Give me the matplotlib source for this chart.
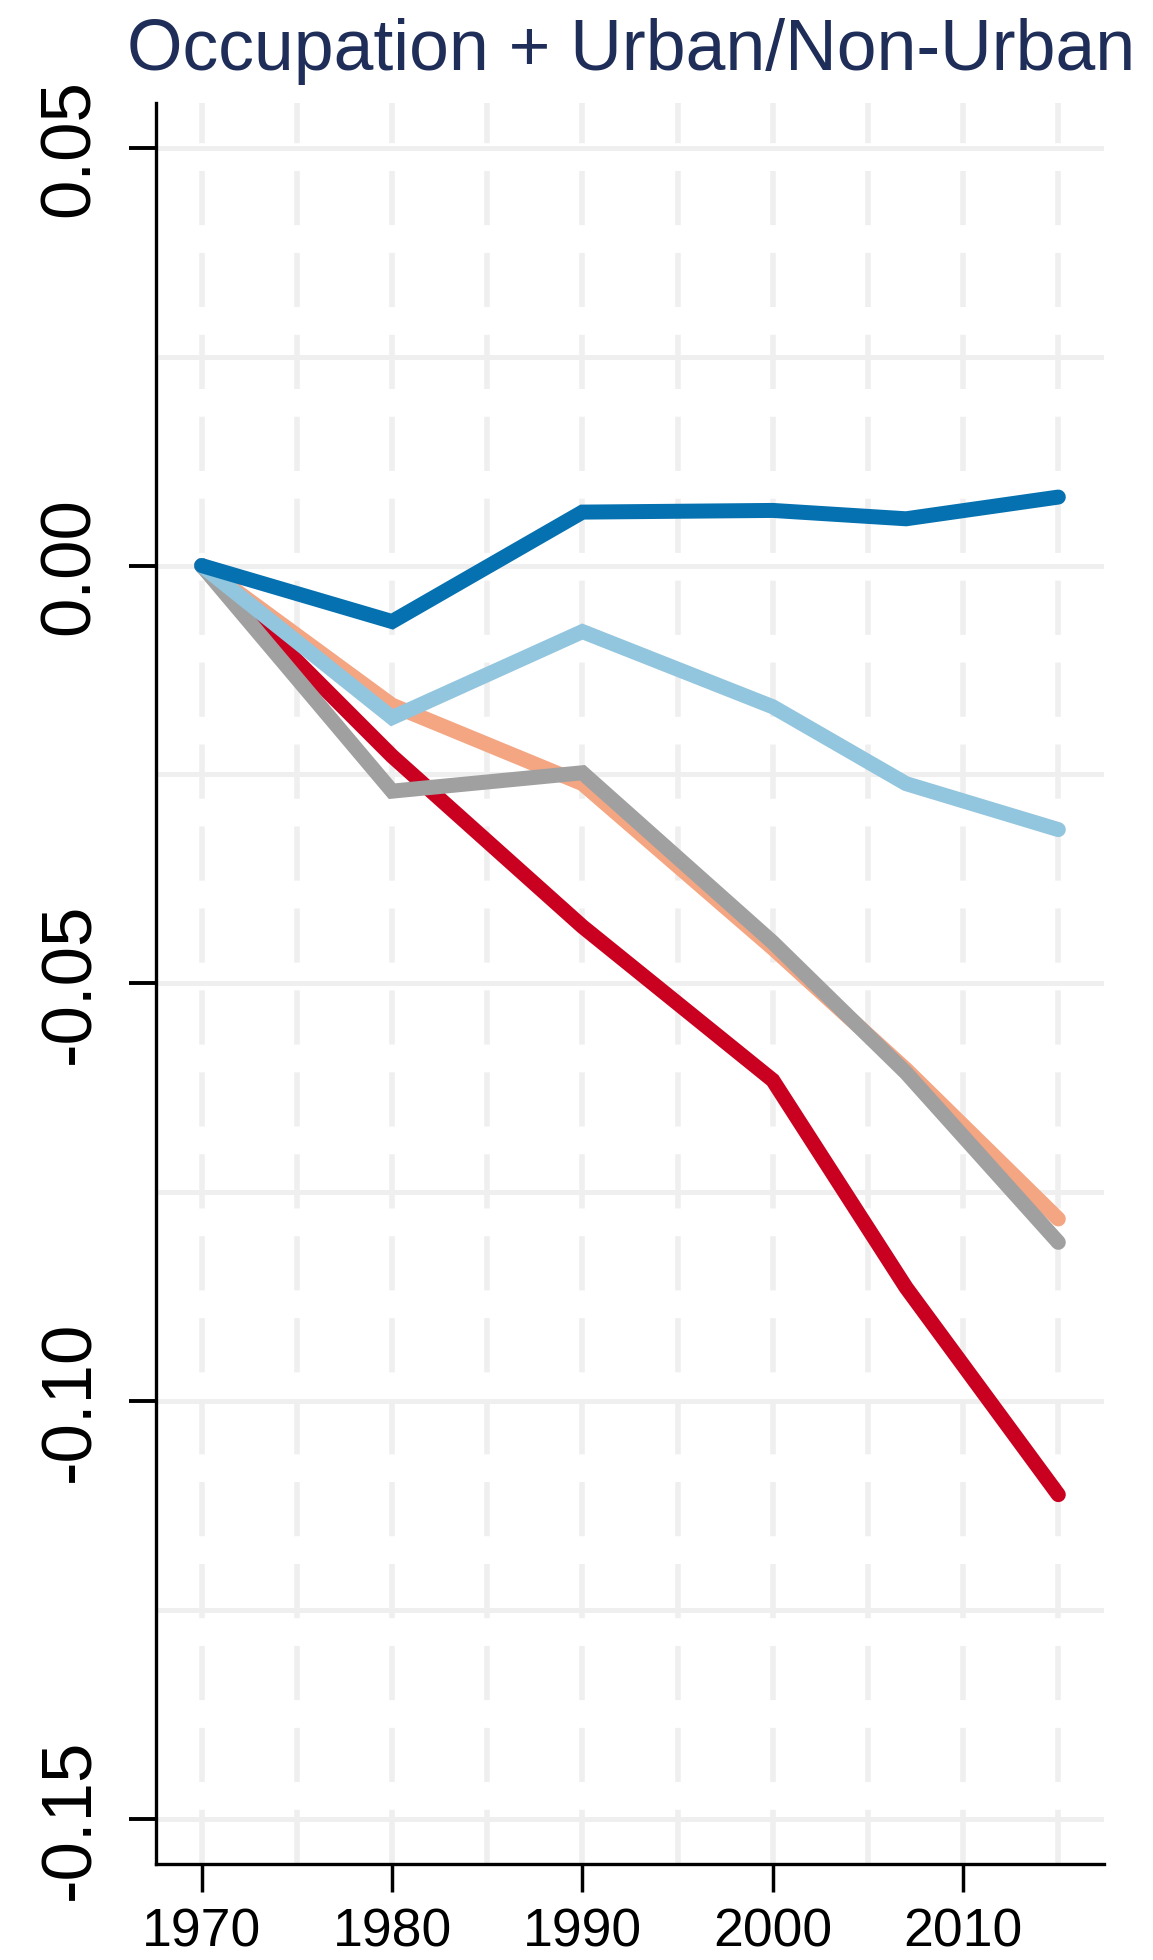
import matplotlib
matplotlib.use("Agg")
import matplotlib.pyplot as plt
from matplotlib.ticker import MultipleLocator

plt.rcParams['font.family'] = ['Liberation Sans', 'DejaVu Sans']
plt.rcParams['axes.unicode_minus'] = False
plt.rcParams['lines.scale_dashes'] = False

# data
years = [1970, 1980, 1990, 2000, 2007, 2015]
dark_blue = [0.0, -0.0067, 0.0064, 0.0066, 0.0056, 0.0082]
light_blue = [0.0, -0.0182, -0.0079, -0.0169, -0.0261, -0.0316]
salmon = [0.0, -0.0167, -0.0261, -0.0458, -0.0603, -0.0782]
red = [0.0, -0.0228, -0.0432, -0.0616, -0.0864, -0.1112]
gray = [0.0, -0.0270, -0.0248, -0.0451, -0.0607, -0.0810]

x_ticks = [1970, 1980, 1990, 2000, 2010]
y_ticks = [-0.15, -0.10, -0.05, 0.00, 0.05]
y_labels = ["-0.15", "-0.10", "-0.05", "0.00", "0.05"]

fig = plt.figure(figsize=(11.53, 19.6), dpi=100)
ax = fig.add_axes([0.1353, 0.0490, 0.8222, 0.8986])

# draw order: salmon at the bottom, dark blue on top
series = [
    (salmon, '#F4A582'),
    (red, '#CA0020'),
    (gray, '#A0A0A0'),
    (light_blue, '#92C5DE'),
    (dark_blue, '#0571B0'),
]
for i, (vals, col) in enumerate(series):
    ax.plot(years, vals, color=col, lw=10.8, solid_capstyle='round',
            solid_joinstyle='miter', zorder=3 + i)

ax.set_xlim(1967.6, 2017.4)
ax.set_ylim(-0.1554, 0.0554)

ax.set_xticks(x_ticks)
ax.set_xticklabels([str(t) for t in x_ticks])
ax.xaxis.set_minor_locator(MultipleLocator(5))
ax.set_yticks(y_ticks)
ax.set_yticklabels(y_labels, rotation=90, va='center')
ax.yaxis.set_minor_locator(MultipleLocator(0.025))

ax.tick_params(axis='x', which='major', length=20, width=2.5, pad=11, labelsize=38.5)
ax.tick_params(axis='y', which='major', length=19.4, width=2.8, pad=18, labelsize=51)
ax.tick_params(which='minor', length=0)

ax.grid(axis='y', which='both', color='#EFEFEF', lw=3.6, zorder=0)
ax.grid(axis='x', which='both', color='#EFEFEF', lw=4.0, linestyle=(0, (39, 20)), zorder=0)
ax.set_axisbelow(True)

for s in ['top', 'right']:
    ax.spines[s].set_visible(False)
for s in ['left', 'bottom']:
    ax.spines[s].set_linewidth(2.4)

fig.text(0.5475, 0.9643, "Occupation + Urban/Non-Urban", ha='center', va='baseline',
         fontsize=51.5, color='#1F2D59')

fig.savefig("out.png", dpi=100)
